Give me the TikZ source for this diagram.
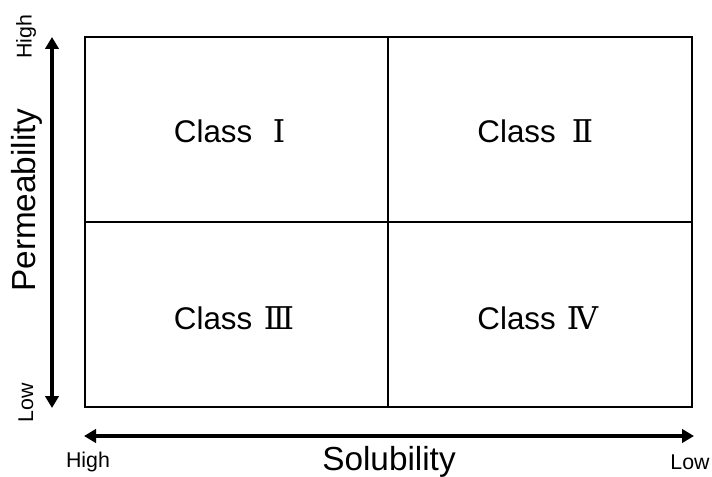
\documentclass[tikz,border=0pt]{standalone}
\usepackage{fontspec}
\setmainfont{Liberation Sans}
\newfontfamily\numfont{DejaVu Serif}
\usetikzlibrary{arrows.meta}
\newcommand\rnum[1]{\makebox[1.15em][c]{\numfont #1}}
\begin{document}
\begin{tikzpicture}[x=0.75pt,y=-0.75pt,
  classlbl/.style={font=\fontsize{23.5}{28}\selectfont,inner sep=0pt},
  axislbl/.style={font=\fontsize{25}{30}\selectfont,inner sep=0pt},
  smalllbl/.style={font=\fontsize{16}{19}\selectfont,inner sep=0pt},
  axisarrow/.style={line width=3pt,-{Triangle[length=9pt,width=10pt]}}]
\useasboundingbox (0,0) rectangle (712,477);
\coordinate (tl) at (85,37);
\coordinate (br) at (692,407);
\draw[line width=1.5pt] (tl) rectangle (br);
\coordinate (mt) at (388,37);
\coordinate (mb) at (388,407);
\coordinate (ml) at (85,222);
\coordinate (mr) at (692,222);
\draw[line width=1.2pt] (mt) -- (mb);
\draw[line width=1.2pt] (ml) -- (mr);
\node[classlbl] (c1) at (235.5,131) {Class\;\rnum{Ⅰ}};
\node[classlbl] (c2) at (539,131) {Class\;\rnum{Ⅱ}};
\node[classlbl] (c3) at (235.5,318) {Class\;\rnum{Ⅲ}};
\node[classlbl] (c4) at (539,318) {Class\;\rnum{Ⅳ}};
% vertical axis
\coordinate (vc) at (52,222);
\coordinate (vtop) at (52,37);
\coordinate (vbot) at (52,408);
\draw[axisarrow] (vc) -- (vtop);
\draw[axisarrow] (vc) -- (vbot);
\node[axislbl,rotate=90] (perm) at (27,200) {Permeability};
\node[smalllbl,rotate=90] (vhigh) at (26,37) {High};
\node[smalllbl,rotate=90] (vlow) at (26,403) {Low};
% horizontal axis
\coordinate (hc) at (388,436);
\coordinate (hleft) at (84,436);
\coordinate (hright) at (694,436);
\draw[axisarrow] (hc) -- (hleft);
\draw[axisarrow] (hc) -- (hright);
\node[axislbl] (sol) at (389,462) {Solubility};
\node[smalllbl] (hhigh) at (88,462) {High};
\node[smalllbl] (hlow) at (690,462) {Low};
\end{tikzpicture}
\end{document}
